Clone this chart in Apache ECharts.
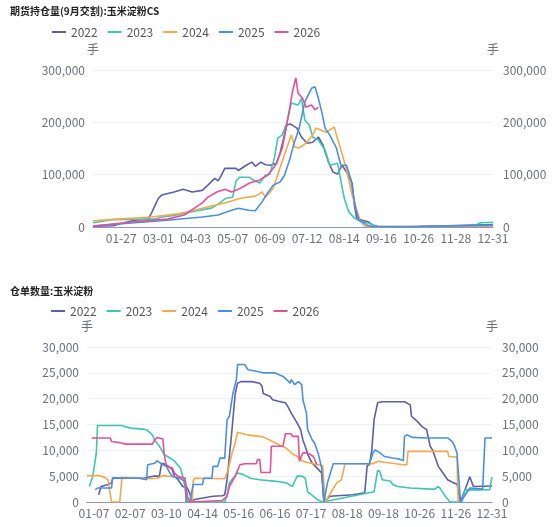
<!DOCTYPE html>
<html>
<head>
<meta charset="utf-8">
<script src="https://cdn.jsdelivr.net/npm/echarts@6/dist/echarts.min.js"></script>
<style>
  html, body { margin: 0; padding: 0; background: #fff; }
  #main { width: 554px; height: 527px; }
</style>
</head>
<body>
<div id="main"></div>
<script>
var chart = echarts.init(document.getElementById('main'));

var years = ['2022', '2023', '2024', '2025', '2026'];
var colors = ['#5b5fa6', '#3ec7b0', '#f7a84c', '#4a90e2', '#e6509a'];

// 横轴日期(缺少的日子)
var topSkip = ['01-01', '05-01', '10-01', '10-02', '10-03', '10-04', '10-05', '10-06', '10-07'];
var bottomSkip = ['04-03', '04-04', '04-05', '04-06', '05-01', '08-01', '10-01', '10-02', '10-03', '10-04',
  '10-05', '10-06', '10-07', '12-25', '12-26', '12-27', '12-28'];
var topTicks = ['01-27', '03-01', '04-03', '05-07', '06-09', '07-12', '08-14', '09-16', '10-26', '11-28', '12-31'];
var bottomTicks = ['01-07', '02-07', '03-10', '04-14', '05-16', '06-16', '07-17', '08-18', '09-18', '10-26', '11-26', '12-31'];

// 期货持仓量(9月交割)
var hold2022 = [['01-02',1500],['01-20',2500],['01-28',7000],['02-08',13000],['02-20',15000],['02-23',27000],['03-01',55000],['03-04',61000],['03-15',67000],['03-23',72000],['03-31',67000],['04-09',70000],['04-14',80000],['04-20',93000],['04-23',88000],['04-26',99000],['04-29',112000],['05-10',112000],['05-12',108000],['05-19',118000],['05-24',124000],['05-27',116000],['06-01',124000],['06-05',119000],['06-10',118000],['06-15',122000],['06-18',141000],['06-24',195000],['06-27',197000],['07-03',189000],['07-07',172000],['07-12',160000],['07-17',162000],['07-22',172000],['07-26',157000],['07-31',124000],['08-04',105000],['08-08',101000],['08-12',118000],['08-16',105000],['08-21',84000],['08-23',42000],['08-25',17000],['08-30',13000],['09-04',10000],['09-08',4000],['09-13',800],['10-20',800],['11-20',2500],['12-31',4500]];
var hold2023 = [['01-02',8000],['01-19',14000],['02-26',15000],['03-04',19000],['03-15',22000],['03-24',26000],['04-02',30000],['04-17',36000],['04-24',45000],['04-30',55000],['05-07',57000],['05-10',88000],['05-13',95000],['05-22',95000],['05-25',90000],['05-31',84000],['06-05',99000],['06-09',101000],['06-13',132000],['06-16',170000],['06-20',176000],['06-24',199000],['06-28',237000],['07-04',233000],['07-07',246000],['07-10',204000],['07-14',195000],['07-17',172000],['07-22',166000],['07-28',147000],['08-01',118000],['08-08',122000],['08-10',99000],['08-14',55000],['08-18',29000],['08-23',17000],['08-29',10000],['09-05',7000],['09-12',500],['11-01',500],['12-15',3000],['12-20',8000],['12-31',9000]];
var hold2024 = [['01-02',12000],['01-24',15000],['02-23',19000],['03-18',25000],['04-02',32000],['04-17',40000],['04-29',46000],['05-14',55000],['05-27',59000],['05-29',61000],['06-02',67000],['06-05',57000],['06-12',74000],['06-18',113000],['06-24',151000],['06-28',176000],['07-01',153000],['07-05',151000],['07-11',160000],['07-17',176000],['07-20',189000],['07-29',181000],['08-05',191000],['08-09',162000],['08-15',118000],['08-21',61000],['08-28',13000],['09-01',2000],['09-06',300],['12-31',1500]];
var hold2025 = [['01-02',2000],['02-08',8000],['03-09',13000],['04-09',19000],['04-23',23000],['05-06',32000],['05-12',36000],['05-21',32000],['05-27',31000],['06-02',48000],['06-07',65000],['06-12',80000],['06-18',86000],['06-22',99000],['06-27',132000],['06-30',157000],['07-05',189000],['07-10',239000],['07-16',265000],['07-19',268000],['07-22',246000],['07-25',220000],['07-28',189000],['08-01',176000],['08-07',151000],['08-11',118000],['08-16',118000],['08-20',90000],['08-24',36000],['08-27',13000],['09-03',4000],['09-08',500],['10-26',800],['12-31',3500]];
var hold2026 = [['01-02',2000],['02-08',10000],['03-09',15000],['03-24',23000],['04-02',36000],['04-09',46000],['04-14',57000],['04-22',67000],['04-29',72000],['05-06',67000],['05-13',73000],['05-22',84000],['05-31',90000],['06-07',99000],['06-14',118000],['06-20',151000],['06-25',208000],['06-29',258000],['07-02',285000],['07-04',256000],['07-08',246000],['07-11',229000],['07-16',233000],['07-19',224000],['07-22',229000]];

// 仓单数量
var rec2022 = [['01-11',1400],['01-13',3000],['01-19',3400],['01-22',3700],['01-23',4600],['02-18',4600],['02-27',5000],['03-04',5000],['03-06',7500],['03-10',7200],['03-15',6300],['03-17',5000],['03-20',4300],['03-24',3000],['03-28',2700],['03-30',1700],['04-01',0],['04-07',500],['04-23',1100],['05-02',1200],['05-04',1400],['05-06',4300],['05-10',13400],['05-13',21000],['05-15',23000],['05-18',23300],['05-27',23300],['06-03',23000],['06-05',22400],['06-06',21000],['06-12',20400],['06-14',19800],['06-19',19500],['06-25',19200],['06-27',18500],['06-30',17200],['07-05',15300],['07-08',14000],['07-10',12000],['07-13',10100],['07-14',9200],['07-18',7500],['07-22',6600],['07-26',5600],['07-28',0],['08-03',1100],['08-23',1400],['09-02',1800],['09-04',7000],['09-06',7200],['09-08',10000],['09-10',16000],['09-13',19200],['09-17',19400],['10-13',19400],['10-18',18800],['10-19',16600],['10-24',15600],['10-28',14600],['11-01',14000],['11-04',10800],['11-06',10100],['11-11',6900],['11-15',5600],['11-19',4300],['11-24',3700],['11-27',3500],['11-30',0],['12-08',4900],['12-11',3000],['12-31',3100]];
var rec2023 = [['01-03',3000],['01-06',5000],['01-09',9500],['01-10',14800],['01-31',14800],['02-07',14300],['02-18',14100],['02-21',14000],['02-26',13000],['02-28',12000],['03-04',10800],['03-08',9200],['03-11',8800],['03-17',7900],['03-22',6600],['03-24',5000],['03-27',1700],['03-28',0],['05-04',0],['05-06',1400],['05-08',3700],['05-11',4600],['05-15',5600],['05-20',5300],['05-26',4600],['06-03',4300],['06-17',4000],['06-26',3700],['07-01',3000],['07-05',5000],['07-09',5000],['07-12',4600],['07-14',2000],['07-19',1100],['07-22',500],['07-27',0],['09-10',2000],['09-13',6100],['09-15',5900],['09-17',4300],['09-24',4000],['09-26',3400],['09-30',3000],['10-18',2700],['11-04',2500],['11-08',2500],['11-11',3000],['11-13',2500],['11-17',1100],['11-21',0],['12-01',0],['12-04',2300],['12-29',2400],['12-31',4800]];
var rec2024 = [['01-01',5100],['01-12',5100],['01-16',4800],['01-19',4300],['01-22',0],['01-29',0],['01-31',4800],['02-21',4500],['03-02',4600],['03-07',5100],['03-11',5000],['03-22',4800],['03-26',4600],['03-27',0],['04-01',0],['04-02',4000],['04-07',4600],['05-04',4500],['05-07',6300],['05-10',9200],['05-13',11400],['05-15',13500],['05-23',13000],['06-06',12600],['06-14',11700],['06-22',10800],['06-26',10400],['06-30',9500],['07-05',8800],['07-09',8000],['07-13',7700],['07-19',7400],['07-27',7000],['07-29',0],['08-09',3700],['08-13',4300],['08-16',7400],['09-09',7400],['09-13',7900],['09-19',7700],['10-12',7200],['10-15',7200],['10-16',9800],['11-19',9800],['11-20',8800],['11-27',8700],['11-28',0]];
var rec2025 = [['01-08',2400],['01-10',2700],['01-22',2700],['01-23',4700],['02-15',4600],['02-21',4300],['02-22',7200],['02-28',7500],['03-02',8000],['03-07',7200],['03-10',6900],['03-13',5600],['03-15',5000],['03-22',4500],['03-26',4000],['03-27',0],['03-30',0],['04-02',3400],['04-14',3400],['04-15',4600],['04-22',4600],['04-23',6900],['04-27',6900],['04-29',8500],['05-04',8500],['05-06',15900],['05-08',16600],['05-11',21000],['05-14',23700],['05-15',26600],['05-21',26600],['05-24',25600],['05-31',25300],['06-06',25000],['06-16',25000],['06-23',24300],['06-26',23700],['06-29',23000],['06-30',23700],['07-03',22700],['07-06',23300],['07-09',22700],['07-10',19800],['07-13',17200],['07-14',14000],['07-18',12000],['07-20',11400],['07-23',9500],['07-26',6600],['07-28',0],['07-31',3700],['08-06',7400],['09-06',7400],['09-09',9500],['09-11',10100],['09-15',9500],['09-19',8800],['09-26',8500],['10-09',8300],['10-12',8000],['10-13',12700],['10-15',13000],['10-20',12500],['11-01',12400],['11-19',12400],['11-23',11700],['11-25',10800],['11-27',9500],['11-30',0],['12-08',2700],['12-19',2500],['12-21',12400],['12-31',12400]];
var rec2026 = [['01-05',12400],['01-21',12400],['01-22',11700],['01-29',11500],['02-03',11200],['02-26',11200],['02-28',12000],['03-02',12500],['03-07',12200],['03-08',9500],['03-10',6900],['03-15',6600],['03-17',5600],['03-20',5000],['03-26',4600],['03-27',3000],['03-28',1100],['03-30',0],['05-02',300],['05-06',1100],['05-08',3000],['05-13',5000],['05-17',7200],['05-21',7400],['05-31',7400],['06-01',8200],['06-03',8200],['06-04',5700],['06-12',5700],['06-13',10800],['06-23',10800],['06-25',13200],['06-30',13200],['07-01',12700],['07-06',12700],['07-07',7900],['07-10',9500],['07-14',9500],['07-19',8800],['07-22',7200]];

var holdData = [hold2022, hold2023, hold2024, hold2025, hold2026];
var recData = [rec2022, rec2023, rec2024, rec2025, rec2026];

function buildDays(skip) {
    var dim = [31, 28, 31, 30, 31, 30, 31, 31, 30, 31, 30, 31];
    var out = [];
    for (var m = 1; m <= 12; m++) {
        for (var d = 1; d <= dim[m - 1]; d++) {
            var s = (m < 10 ? '0' : '') + m + '-' + (d < 10 ? '0' : '') + d;
            if (skip.indexOf(s) < 0) out.push(s);
        }
    }
    return out;
}

var labelColor = '#6e7079';
var fontFam = '"Noto Sans CJK SC", sans-serif';

function xAxisOf(idx, days, ticks) {
    return {
        type: 'category',
        gridIndex: idx,
        data: days,
        boundaryGap: false,
        axisTick: { show: false },
        axisLine: { lineStyle: { color: '#8a94c6', width: 1 } },
        axisLabel: {
            color: labelColor,
            fontSize: 12,
            fontFamily: fontFam,
            margin: 5,
            interval: function (i, v) { return ticks.indexOf(v) >= 0; }
        }
    };
}

function yAxisOf(idx, max, step, pos) {
    return {
        type: 'value',
        gridIndex: idx,
        position: pos,
        min: 0,
        max: max,
        interval: step,
        name: '手',
        nameGap: 15,
        nameTextStyle: { color: labelColor, fontSize: 12, fontFamily: fontFam },
        axisLine: { show: false },
        axisTick: { show: false },
        splitLine: { show: pos === 'left', lineStyle: { color: '#eef0f7' } },
        axisLabel: {
            color: labelColor,
            fontSize: 12,
            fontFamily: fontFam,
            margin: pos === 'left' ? 8 : 10,
            formatter: function (v) { return v.toLocaleString('en-US'); }
        }
    };
}

var series = [];
for (var k = 0; k < years.length; k++) {
    series.push({
        name: years[k], type: 'line', xAxisIndex: 0, yAxisIndex: 0,
        symbol: 'none', color: colors[k], lineStyle: { width: 1.6 },
        data: holdData[k]
    });
}
for (var k = 0; k < years.length; k++) {
    series.push({
        name: years[k], type: 'line', xAxisIndex: 1, yAxisIndex: 2,
        symbol: 'none', color: colors[k], lineStyle: { width: 1.6 },
        data: recData[k]
    });
}

var legendBase = {
    data: years,
    icon: 'rect',
    itemWidth: 14,
    itemHeight: 2,
    itemGap: 10,
    textStyle: { color: '#555', fontSize: 12, fontFamily: fontFam }
};

var option = {
    animation: false,
    title: [
        { text: '期货持仓量(9月交割):玉米淀粉CS', left: 10, top: 6, padding: 0,
          textStyle: { fontSize: 10, fontWeight: 'bold', color: '#222', fontFamily: fontFam } },
        { text: '仓单数量:玉米淀粉', left: 10, top: 286, padding: 0,
          textStyle: { fontSize: 10, fontWeight: 'bold', color: '#222', fontFamily: fontFam } }
    ],
    legend: [
        Object.assign({ left: 52, top: 26, padding: 0 }, legendBase),
        Object.assign({ left: 51, top: 305, padding: 0 }, legendBase)
    ],
    grid: [
        { left: 93, right: 61, top: 70, height: 157 },
        { left: 87, right: 62, top: 347, height: 155 }
    ],
    xAxis: [
        xAxisOf(0, buildDays(topSkip), topTicks),
        xAxisOf(1, buildDays(bottomSkip), bottomTicks)
    ],
    yAxis: [
        yAxisOf(0, 300000, 100000, 'left'),
        yAxisOf(0, 300000, 100000, 'right'),
        yAxisOf(1, 30000, 5000, 'left'),
        yAxisOf(1, 30000, 5000, 'right')
    ],
    series: series
};

chart.setOption(option);
</script>
</body>
</html>
